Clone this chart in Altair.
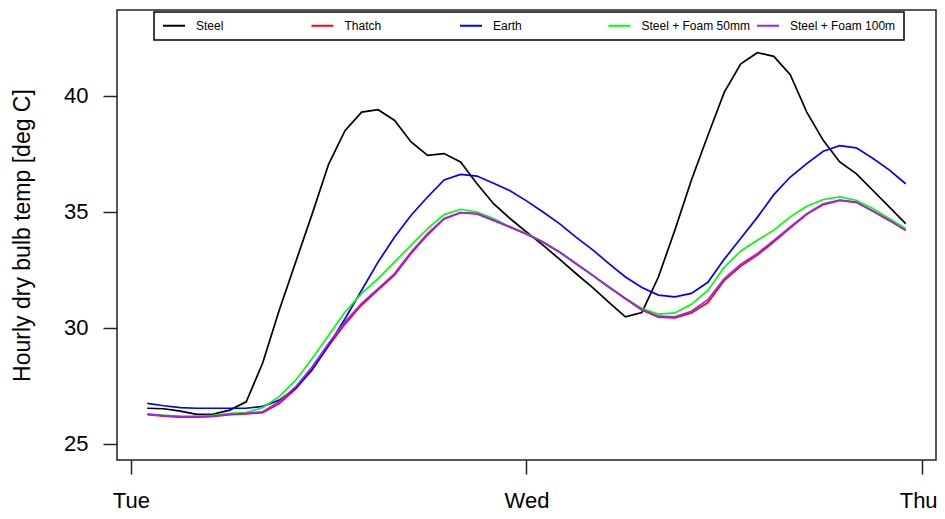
import altair as alt
import pandas as pd

hours = list(range(1, 48))

steel = [26.52, 26.50, 26.40, 26.26, 26.27, 26.44, 26.80, 28.48, 30.75, 32.83,
         34.90, 37.05, 38.50, 39.29, 39.39, 38.93, 38.00, 37.42, 37.50, 37.14,
         36.20, 35.34, 34.70, 34.12, 33.55, 32.95, 32.33, 31.73, 31.09, 30.46,
         30.65, 32.18, 34.20, 36.35, 38.28, 40.15, 41.37, 41.85, 41.69, 40.90,
         39.29, 38.07, 37.14, 36.64, 35.92, 35.20, 34.48]

thatch = [26.25, 26.18, 26.14, 26.14, 26.17, 26.24, 26.28, 26.33, 26.72, 27.36,
          28.22, 29.22, 30.16, 30.97, 31.62, 32.27, 33.20, 34.00, 34.68, 34.95,
          34.90, 34.62, 34.33, 34.02, 33.68, 33.25, 32.75, 32.25, 31.74, 31.24,
          30.76, 30.45, 30.42, 30.63, 31.08, 32.03, 32.65, 33.12, 33.70, 34.30,
          34.88, 35.30, 35.48, 35.40, 35.02, 34.62, 34.19]

earth = [26.73, 26.63, 26.55, 26.52, 26.52, 26.52, 26.52, 26.60, 26.87, 27.38,
         28.17, 29.24, 30.39, 31.61, 32.83, 33.90, 34.84, 35.63, 36.36, 36.60,
         36.53, 36.22, 35.90, 35.46, 34.98, 34.48, 33.90, 33.36, 32.76, 32.18,
         31.73, 31.40, 31.32, 31.47, 31.95, 32.95, 33.85, 34.75, 35.73, 36.49,
         37.07, 37.60, 37.84, 37.75, 37.30, 36.80, 36.20]

foam50 = [26.27, 26.22, 26.18, 26.18, 26.22, 26.30, 26.33, 26.55, 27.02, 27.73,
          28.67, 29.67, 30.68, 31.47, 32.11, 32.83, 33.55, 34.27, 34.87, 35.10,
          34.98, 34.70, 34.34, 34.05, 33.70, 33.27, 32.77, 32.27, 31.76, 31.26,
          30.82, 30.58, 30.63, 31.00, 31.60, 32.61, 33.30, 33.76, 34.20, 34.77,
          35.23, 35.52, 35.63, 35.49, 35.13, 34.70, 34.27]

foam100 = [26.27, 26.20, 26.15, 26.15, 26.18, 26.26, 26.30, 26.37, 26.80, 27.45,
           28.31, 29.32, 30.25, 31.04, 31.68, 32.33, 33.26, 34.05, 34.70, 34.96,
           34.91, 34.63, 34.34, 34.03, 33.69, 33.26, 32.76, 32.26, 31.75, 31.25,
           30.78, 30.49, 30.46, 30.70, 31.20, 32.11, 32.73, 33.19, 33.76, 34.34,
           34.91, 35.34, 35.49, 35.41, 35.03, 34.63, 34.20]

series_names = ["Steel", "Thatch", "Earth", "Steel + Foam 50mm", "Steel + Foam 100m"]
series_colors = ["#000000", "#FF0000", "#0000FF", "#00FF00", "#A020F0"]
day_ticks = [0, 24, 48]
day_labels = ["Tue", "Wed", "Thu"]
y_ticks = [25, 30, 35, 40]

rows = []
for name, vals in zip(series_names, [steel, thatch, earth, foam50, foam100]):
    for h, v in zip(hours, vals):
        rows.append({"hour": h, "series": name, "temp": v})
df = pd.DataFrame(rows)

label_expr = "''"
for t, lab in reversed(list(zip(day_ticks, day_labels))):
    label_expr = f"datum.value == {t} ? '{lab}' : {label_expr}"

FONT = "Liberation Sans"

chart = alt.Chart(df).mark_line(strokeWidth=1.7).encode(
    x=alt.X("hour:Q",
            scale=alt.Scale(domain=[-0.84, 48.84], nice=False, zero=False),
            axis=alt.Axis(values=day_ticks, labelExpr=label_expr, title=None,
                          domain=False, grid=False, tickSize=14, tickWidth=1.5,
                          tickColor="#222222", labelFont=FONT, labelFontSize=22,
                          labelColor="black", labelPadding=16, labelFlush=False,
                          labelOffset={"condition": {"test": f"datum.value == {day_ticks[-1]}",
                                                     "value": -4},
                                       "value": 0})),
    y=alt.Y("temp:Q",
            scale=alt.Scale(domain=[24.29, 43.69], nice=False, zero=False),
            axis=alt.Axis(values=y_ticks, title="Hourly dry bulb temp [deg C]",
                          domain=False, grid=False, tickSize=14, tickWidth=1.5,
                          tickColor="#222222", labelFont=FONT, labelFontSize=22,
                          labelColor="black", labelPadding=15,
                          titleFont=FONT, titleFontSize=23, titleFontWeight="normal",
                          titleColor="black", titleX=-95, titleY=225,
                          titleBaseline="middle", titleAlign="center")),
    color=alt.Color("series:N",
                    scale=alt.Scale(domain=series_names, range=series_colors),
                    legend=alt.Legend(title=None, orient="none", legendX=37, legendY=2,
                                      direction="horizontal", columns=5, gridAlign="all",
                                      columnPadding=5.5, padding=8,
                                      symbolType="stroke", symbolSize=484,
                                      symbolStrokeWidth=2, labelFont=FONT,
                                      labelFontSize=12, labelOffset=10, labelLimit=300,
                                      labelColor="black", strokeColor="black",
                                      clipHeight=11)),
).properties(
    width=819, height=450,
    autosize=alt.AutoSizeParams(type="none"),
    padding={"left": 109, "top": 2, "right": 1, "bottom": 51},
    background="white",
).configure_view(
    stroke="#222222", strokeWidth=1.5
).configure_legend(
    strokeWidth=1.5
)

chart.save("out.html", embed_options={"renderer": "svg", "actions": False})
